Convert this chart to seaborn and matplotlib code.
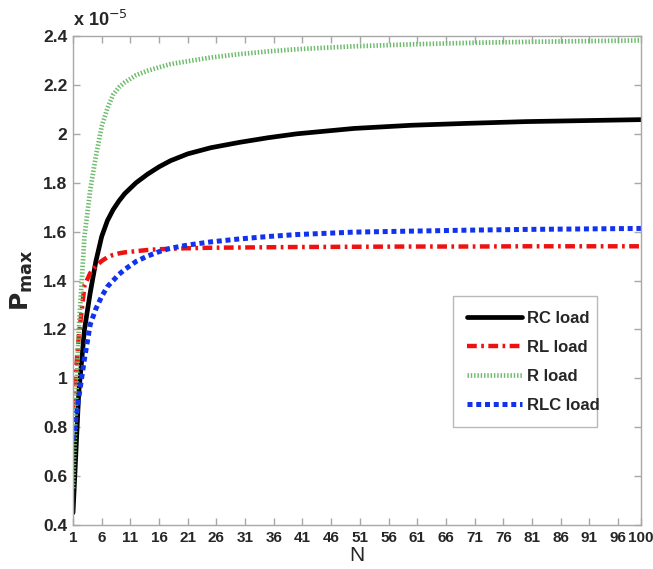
import numpy as np
import pandas as pd
import matplotlib
matplotlib.use("Agg")
import matplotlib.pyplot as plt
import seaborn as sns

# Number of elements N and the maximum power for each load type (units of 1e-5)
n_values = [1, 2, 3, 4, 5, 6, 7, 8, 9, 10, 12, 14, 16, 18, 21, 25, 30, 35, 40, 50, 60, 70, 80, 90, 100]
rc_load = [0.45, 0.94, 1.20, 1.35, 1.48, 1.58, 1.645, 1.69, 1.725, 1.755, 1.80, 1.835, 1.865, 1.89, 1.918,
           1.943, 1.965, 1.984, 2.000, 2.022, 2.035, 2.043, 2.050, 2.054, 2.058]
rl_load = [0.88, 1.17, 1.38, 1.43, 1.46, 1.48, 1.495, 1.505, 1.511, 1.515, 1.520, 1.525, 1.528, 1.530, 1.532,
           1.534, 1.535, 1.536, 1.537, 1.538, 1.539, 1.539, 1.540, 1.540, 1.540]
r_load = [0.55, 1.20, 1.58, 1.77, 1.91, 2.03, 2.105, 2.16, 2.19, 2.21, 2.24, 2.258, 2.272, 2.285, 2.297,
          2.312, 2.326, 2.337, 2.346, 2.358, 2.366, 2.372, 2.376, 2.379, 2.382]
rlc_load = [0.75, 0.92, 1.08, 1.22, 1.285, 1.335, 1.375, 1.40, 1.425, 1.445, 1.478, 1.50, 1.518, 1.532, 1.545,
            1.558, 1.570, 1.580, 1.588, 1.598, 1.602, 1.606, 1.609, 1.611, 1.613]

x_ticks = [1, 6, 11, 16, 21, 26, 31, 36, 41, 46, 51, 56, 61, 66, 71, 76, 81, 86, 91, 96, 100]
y_ticks = [0.4, 0.6, 0.8, 1.0, 1.2, 1.4, 1.6, 1.8, 2.0, 2.2, 2.4]
y_tick_labels = ["0.4", "0.6", "0.8", "1", "1.2", "1.4", "1.6", "1.8", "2", "2.2", "2.4"]

sns.set_style("white")
plt.rcParams["font.family"] = ["Liberation Sans", "DejaVu Sans"]

fig = plt.figure(figsize=(6.53, 5.69), dpi=100)
ax = fig.add_axes([0.1118, 0.0773, 0.8698, 0.8594])

series = [
    ("RC load", rc_load, dict(color="black", lw=3.4, linestyle="-")),
    ("RL load", rl_load, dict(color="#ee1111", lw=3.2, linestyle=(0, (2.2, 1.0, 0.6, 1.0)))),
    ("R load", r_load, dict(color="#6cbb6c", lw=3.4, linestyle=(0, (0.3, 0.4)))),
    ("RLC load", rlc_load, dict(color="#1133ee", lw=3.6, linestyle=(0, (1.0, 0.75)))),
]

for name, values, style in series:
    df = pd.DataFrame({"N": n_values, "P": values})
    sns.lineplot(data=df, x="N", y="P", ax=ax, label=name, **style)

ax.set_xlim(1, 100)
ax.set_ylim(0.4, 2.4)
ax.set_xticks(x_ticks)
ax.set_xticklabels([str(t) for t in x_ticks], fontsize=11, fontweight="bold")
ax.set_yticks(y_ticks)
ax.set_yticklabels(y_tick_labels, fontsize=12.5, fontweight="bold")

for side in ["top", "bottom", "left", "right"]:
    ax.spines[side].set_visible(True)
    ax.spines[side].set_color("#a8a8a8")
    ax.spines[side].set_linewidth(1.0)

ax.tick_params(axis="both", which="both", direction="in", length=5, width=1,
               color="#a8a8a8", top=True, right=True, bottom=True, left=True, pad=4)

ax.set_xlabel("N", fontsize=15, labelpad=1)
ax.set_ylabel(r"$\mathbf{P_{max}}$", fontsize=18, labelpad=6)

ax.text(0.0, 1.012, r"x 10$^{-5}$", transform=ax.transAxes, fontsize=13,
        fontweight="bold", ha="left", va="bottom")

leg = ax.legend(loc="lower left", bbox_to_anchor=(0.669, 0.20, 0.254, 0.255),
                mode="expand", borderaxespad=0.0, prop={"weight": "bold", "size": 12},
                handlelength=3.3, labelspacing=0.85, borderpad=0.85,
                handletextpad=0.3, frameon=True, fancybox=False)
leg.get_frame().set_edgecolor("#a8a8a8")
leg.get_frame().set_linewidth(1.0)

fig.savefig("out.png", dpi=100)
